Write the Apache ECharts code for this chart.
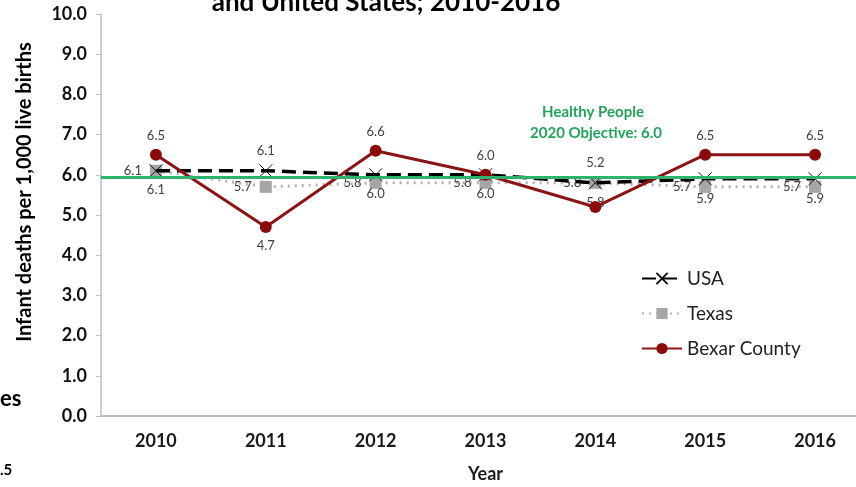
<!DOCTYPE html>
<html><head><meta charset="utf-8">
<script src="https://cdn.jsdelivr.net/npm/echarts@6/dist/echarts.min.js"></script>
<style>html,body{margin:0;padding:0;background:#fff}#c{width:856px;height:487px}</style>
</head><body><div id="c"></div>
<script>
var years = ['2010','2011','2012','2013','2014','2015','2016'];
var usa = [6.1, 6.1, 6.0, 6.0, 5.8, 5.9, 5.9];
var usaLabelPos = ['bottom','top','bottom','bottom','bottom','bottom','bottom'];
var texas = [6.1, 5.7, 5.8, 5.8, 5.8, 5.7, 5.7];
var bexar = [6.5, 4.7, 6.6, 6.0, 5.2, 6.5, 6.5];
var bexarLabelPos = ['top','bottom','top','top','top','top','top'];
var objective = 5.93;
var yTicks = [0,1,2,3,4,5,6,7,8,9,10];

var FONT = 'Lato, "Open Sans", sans-serif';
var labelStyle = {fontFamily: FONT, fontSize: 13, color: '#404040'};
function fmt(p){ return p.value.toFixed(1); }

var chart = echarts.init(document.getElementById('c'));
chart.setOption({
  animation: false,
  textStyle: {fontFamily: FONT},
  grid: {left: 101, right: -14, top: 14, bottom: 71, containLabel: false, outerBoundsMode: 'none'},
  graphic: [
    {type:'text', x: 386, y: 16, style:{text:'and United States; 2010-2016', font:'bold 26px ' + FONT, fill:'#000', align:'center', verticalAlign:'bottom'}},
    {type:'text', x: 0, y: 399, style:{text:'es', font:'bold 22px ' + FONT, fill:'#000', verticalAlign:'middle'}},
    {type:'text', x: 0, y: 470, style:{text:'.5', font:'bold 15px ' + FONT, fill:'#000', verticalAlign:'middle'}},
    {type:'text', x: 593, y: 112, style:{text:'Healthy People', font:'bold 15px ' + FONT, fill:'#21a45a', align:'center', verticalAlign:'middle'}},
    {type:'text', x: 596, y: 133, style:{text:'2020 Objective: 6.0', font:'bold 15px ' + FONT, fill:'#21a45a', align:'center', verticalAlign:'middle'}}
  ],
  legend: {
    orient: 'vertical', left: 636, top: 264, itemWidth: 40, itemHeight: 14, itemGap: 16,
    textStyle: {fontFamily: FONT, fontSize: 19, color: '#222'},
    data: ['USA','Texas','Bexar County']
  },
  xAxis: {
    type: 'category', data: years, boundaryGap: true,
    name: 'Year', nameLocation: 'middle', nameGap: 49,
    nameTextStyle: {fontFamily: FONT, fontSize: 18, fontWeight: 'bold', color: '#1a1a1a'},
    axisLine: {lineStyle: {color: '#bfbfbf', width: 2}},
    axisTick: {show: false},
    axisLabel: {fontFamily: FONT, fontSize: 18, fontWeight: 'bold', color: '#1a1a1a', margin: 16}
  },
  yAxis: {
    type: 'value', min: 0, max: 10, interval: 1,
    name: 'Infant deaths per 1,000 live births', nameLocation: 'middle', nameGap: 66, nameRotate: 90,
    nameTextStyle: {fontFamily: FONT, fontSize: 20, fontWeight: 'bold', color: '#000', padding:[0,0,0,46]},
    axisLine: {show: true, lineStyle: {color: '#bfbfbf', width: 1.5}},
    axisTick: {show: true, length: 5, lineStyle: {color: '#bfbfbf'}},
    splitLine: {show: false},
    axisLabel: {fontFamily: FONT, fontSize: 18, fontWeight: 'bold', color: '#111', margin: 14,
      formatter: function(v){ return yTicks.indexOf(v) >= 0 ? v.toFixed(1) : ''; }}
  },
  series: [
    {
      name: 'Objective', type: 'line', data: [], silent: true,
      markLine: {symbol: 'none', silent: true, label: {show: false},
        lineStyle: {color: '#2db36b', width: 3, type: 'solid'},
        data: [{yAxis: objective}]}
    },
    {
      name: 'USA', type: 'line', z: 3,
      data: usa.map(function(v,i){ return {value: v, label: {position: usaLabelPos[i]}}; }),
      lineStyle: {color: '#000', width: 3.5, type: [14,7]},
      symbol: 'path://M0,0L10,10M10,0L0,10', symbolSize: 13,
      itemStyle: {color: 'rgba(0,0,0,0)', borderColor: '#111', borderWidth: 1},
      label: Object.assign({show: true, distance: 6, formatter: fmt}, labelStyle)
    },
    {
      name: 'Texas', type: 'line', z: 2,
      data: texas,
      lineStyle: {color: '#b3b3b3', width: 3, type: [2,5]},
      symbol: 'rect', symbolSize: 12,
      itemStyle: {color: '#a6a6a6'},
      label: Object.assign({show: true, position: 'left', distance: 8, formatter: fmt}, labelStyle)
    },
    {
      name: 'Bexar County', type: 'line', z: 4,
      data: bexar.map(function(v,i){
        var lab = {position: bexarLabelPos[i]};
        if (i === 4) lab.distance = 32;
        return {value: v, label: lab};
      }),
      lineStyle: {color: '#8b1414', width: 3},
      symbol: 'circle', symbolSize: 12,
      itemStyle: {color: '#8b0a0a'},
      label: Object.assign({show: true, distance: 6, formatter: fmt}, labelStyle)
    }
  ]
});
</script></body></html>
